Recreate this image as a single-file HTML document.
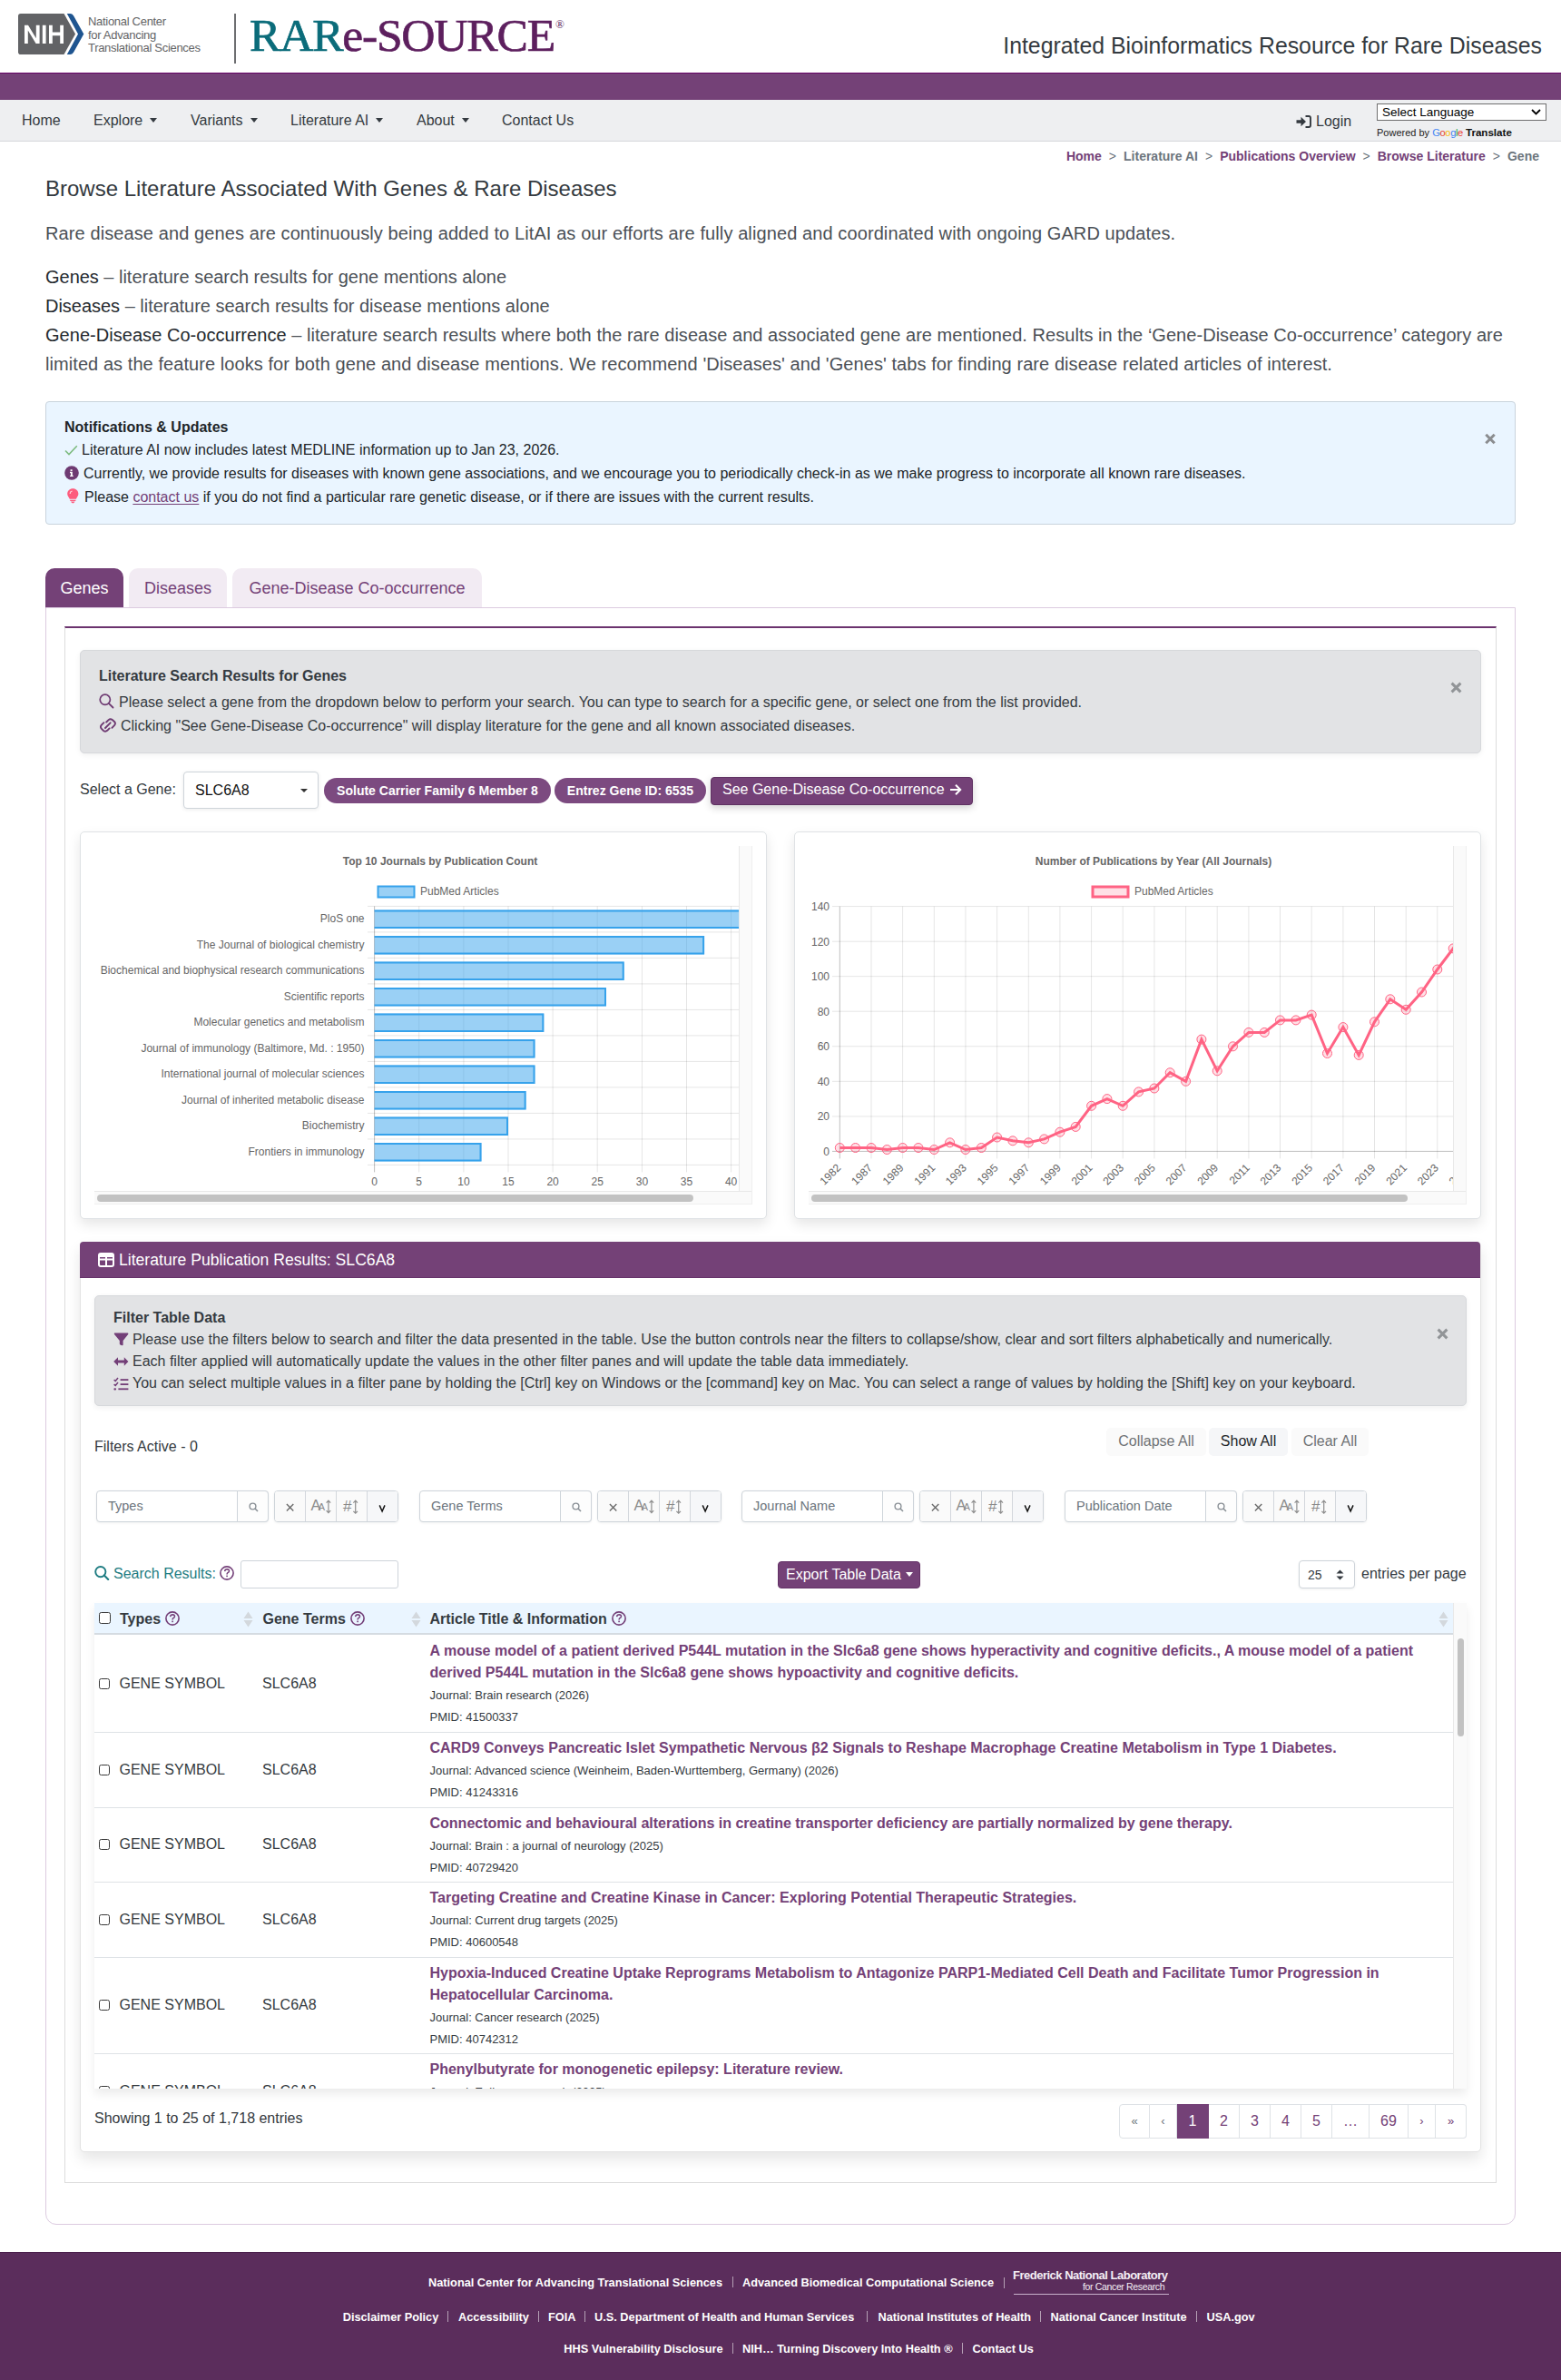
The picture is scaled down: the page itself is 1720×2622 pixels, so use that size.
<!DOCTYPE html>
<html><head><meta charset="utf-8">
<style>
*{box-sizing:border-box;margin:0;padding:0}
html,body{width:1720px;height:2622px;overflow:hidden;background:#fff}
body{font-family:"Liberation Sans",sans-serif;color:#343a40;position:relative;font-size:16px}
.abs{position:absolute}
.nowrap{white-space:nowrap}
/* header */
#hdr{left:0;top:0;width:1720px;height:80px;background:#fff}
#ncats{left:97px;top:17px;font-size:13px;line-height:14.6px;color:#636466;letter-spacing:-0.3px}
#divider{left:258px;top:15px;width:2px;height:55px;background:#6d6e71}
#rare{left:275px;top:4px;font-family:"Liberation Serif",serif;font-size:51.5px;line-height:70px;letter-spacing:-1.2px;-webkit-text-stroke:0.7px}
#rare .t{color:#0b6c7a}
#rare .p{color:#5d1f5e}
#rare sup{font-size:13px;position:relative;top:-25px;color:#5d1f5e;vertical-align:baseline;margin-left:1px;-webkit-text-stroke:0}
#tag{right:21px;top:34.5px;font-size:24.85px;line-height:32px;color:#343a40}
#pbar{left:0;top:80px;width:1720px;height:30px;background:#744177;border-top:1px solid #660066}
#nav{left:0;top:110px;width:1720px;height:46px;background:#eeeff1;border-bottom:1px solid #d6d8db}
#nav .it{position:absolute;top:13px;font-size:16px;line-height:20px;color:#343a40}
.caret{display:inline-block;width:0;height:0;border-left:4.5px solid transparent;border-right:4.5px solid transparent;border-top:5px solid #343a40;vertical-align:3px;margin-left:8px}
#crumb{right:24px;top:163px;font-size:14px;line-height:18px;font-weight:bold;color:#6c757d}
#crumb a{color:#744177;text-decoration:none}
#crumb .sep{color:#6c757d;font-weight:normal;margin:0 8px;font-size:14px}
#title{left:50px;top:193px;font-size:24px;line-height:30px;color:#343a40}
.intro{left:50px;font-size:20px;line-height:32px;color:#4b5056;letter-spacing:0.1px}
.intro b{font-weight:normal;color:#24292e}
/* notification */
#notif{left:50px;top:442px;width:1620px;height:136px;background:#eaf5ff;border:1px solid #c9d3dc;border-radius:4px}
#notif .h{position:absolute;left:20px;top:17px;font-size:16px;font-weight:bold;line-height:20px;color:#212529}
#notif .l{position:absolute;left:20px;font-size:16px;line-height:20px;color:#212529;white-space:nowrap}
#notif .x{position:absolute;right:20px;top:31px}
/* tabs */
.tab{position:absolute;top:626px;height:44px;border-radius:10px 10px 0 0;font-size:18px;line-height:44px;text-align:center}
#tab1{left:50px;width:86px;background:#744177;color:#fff}
#tab2{left:142px;width:108px;background:#f2ebf3;color:#744177}
#tab3{left:256px;width:275px;background:#f2ebf3;color:#744177}
#tabc{left:50px;top:669px;width:1620px;height:1782px;border:1px solid #dccbe0;border-radius:0 0 12px 12px}
#card{left:71px;top:690px;width:1578px;height:1715px;border:1px solid #dcdcdc;border-top:2px solid #6b336e}

.alertg{position:absolute;background:#e2e3e5;border:1px solid #d6d8db;border-radius:5px;box-shadow:0 2px 6px rgba(0,0,0,0.06)}
.alertg .h{position:absolute;font-size:16px;font-weight:bold;line-height:20px;color:#343a40;white-space:nowrap}
.alertg .l{position:absolute;font-size:16px;line-height:20px;color:#343a40;white-space:nowrap}
.badge{position:absolute;top:857px;height:28px;border-radius:14px;background:#7c4a80;color:#fff;font-size:14px;font-weight:bold;line-height:28px;text-align:center;white-space:nowrap}
.ccard{position:absolute;top:916px;height:427px;width:757px;background:#fff;border:1px solid #dfe2e5;border-radius:5px;box-shadow:0 6px 14px rgba(0,0,0,0.10)}

#rcard{left:88px;top:1368px;width:1544px;height:1003px;background:#fff;border:1px solid #e3e3e3;border-radius:5px;box-shadow:0 8px 16px rgba(0,0,0,0.10)}
#rhead{left:88px;top:1368px;width:1543px;height:40px;background:#744177;border-radius:4px 4px 0 0;border-bottom:1px solid #66336a}
.fbtn{position:absolute;top:1573px;height:31px;border-radius:5px;background:#fafafa;font-size:16px;line-height:30px;text-align:center;color:#6f7275;white-space:nowrap}
.fin{position:absolute;top:1642px;height:35px;width:190px;border:1px solid #ced4da;border-radius:4px;background:#fff;box-shadow:0 1px 3px rgba(0,0,0,0.06)}
.fin .ph{position:absolute;left:12px;top:7px;font-size:14.5px;line-height:18px;color:#6c757d;white-space:nowrap}
.fin .sb{position:absolute;right:-1px;top:-1px;width:35px;height:35px;border:1px solid #ced4da;border-radius:0 4px 4px 0;background:#fdfdfd}
.fgrp{position:absolute;top:1642px;height:35px;width:137px;border:1px solid #ced4da;border-radius:4px;background:#fff;box-shadow:0 1px 3px rgba(0,0,0,0.06)}
.fgrp .s{position:absolute;top:0;height:33px;width:34px;border-right:1px solid #dee2e6;font-size:15px;line-height:33px;text-align:center;color:#6c757d}

#tbl{left:104px;top:1766px;width:1512px;height:535px;overflow:hidden;box-shadow:0 6px 10px rgba(0,0,0,0.08)}
#thead{left:0;top:0;width:1497px;height:35px;background:#eaf5ff;border-bottom:2px solid #d5dbe1}
.th{position:absolute;top:8px;font-size:16px;font-weight:bold;line-height:20px;color:#343a40;white-space:nowrap}
.q{display:inline-block;width:16px;height:16px;border:1.5px solid #7a3f80;border-radius:50%;font-size:10.5px;line-height:13px;text-align:center;color:#7a3f80;font-weight:bold;vertical-align:-2px;margin-left:5px}
.row{position:absolute;left:0;width:1497px}
.row::after{content:"";position:absolute;left:0;right:0;bottom:-1px;height:1px;background:#dee2e6}
.row .cb{position:absolute;left:5px;width:12px;height:12px;border:1px solid #3a3a3a;border-radius:2.5px}
.row .ty{position:absolute;left:27.5px;font-size:16px;line-height:20px;color:#343a40;white-space:nowrap}
.row .gt{position:absolute;left:185px;font-size:16px;line-height:20px;color:#343a40;white-space:nowrap}
.row .ti{position:absolute;left:369.5px;top:6px;font-size:16px;font-weight:bold;line-height:24px;color:#744177;white-space:nowrap}
.row .jo{position:absolute;left:369.5px;font-size:13px;line-height:16px;color:#343a40;white-space:nowrap}
.pg{position:absolute;top:2318px;height:38px;border:1px solid #dee2e6;border-left:none;font-size:16px;line-height:36px;text-align:center;color:#744177;background:#fff}

#foot{left:0;top:2481px;width:1720px;height:141px;background:#5b2d5c;border-top:1px solid #4a1f4b}
.ft{position:absolute;font-size:12.75px;font-weight:bold;line-height:15px;color:#fff;white-space:nowrap}
.fs{position:absolute;width:1px;height:12px;background:rgba(255,255,255,0.55)}
</style></head>
<body>
<div id="hdr" class="abs">
  <svg class="abs" style="left:0;top:0" width="100" height="80" viewBox="0 0 100 80">
    <path d="M22.8 15 H70.5 L83 37.5 L70.5 60 H22.8 Q20 60 20 57.2 V17.8 Q20 15 22.8 15 Z" fill="#626366"/>
    <path d="M73.8 15 H77.3 Q79.6 15 81 17.3 L92.3 37.5 L81 57.7 Q79.6 60 77.3 60 H73.8 L86 37.5 Z" fill="#1f5590"/>
    <path d="M27 27.8 H31 L39.8 42.3 V27.8 H43.6 V48.1 H39.6 L30.8 33.6 V48.1 H27 Z M46.8 27.8 H50.6 V48.1 H46.8 Z M54 27.8 H57.8 V35.6 H66.2 V27.8 H70 V48.1 H66.2 V39.3 H57.8 V48.1 H54 Z" fill="#fff"/>
  </svg>
  <div id="ncats" class="abs nowrap">National Center<br>for Advancing<br>Translational Sciences</div>
  <div id="divider" class="abs"></div>
  <div id="rare" class="abs nowrap"><span class="t">RAR</span><span class="p">e-SOURCE</span><sup>®</sup></div>
  <div id="tag" class="abs nowrap">Integrated Bioinformatics Resource for Rare Diseases</div>
</div>
<div id="pbar" class="abs"></div>
<div id="nav" class="abs">
  <span class="it" style="left:24px">Home</span>
  <span class="it" style="left:103px">Explore<i class="caret"></i></span>
  <span class="it" style="left:210px">Variants<i class="caret"></i></span>
  <span class="it" style="left:320px">Literature AI<i class="caret"></i></span>
  <span class="it" style="left:459px">About<i class="caret"></i></span>
  <span class="it" style="left:553px">Contact Us</span>
  <svg class="abs" style="left:1428px;top:17px" width="17" height="14" viewBox="0 0 17 14"><path d="M0.5 5.2 H5.5 V1.8 L11 7 L5.5 12.2 V8.8 H0.5 Z" fill="#343a40"/><path d="M10.5 1 H14 Q16 1 16 3 V11 Q16 13 14 13 H10.5" fill="none" stroke="#343a40" stroke-width="1.9"/></svg>
  <span class="it" style="left:1450px;top:14px;font-size:16px">Login</span>
  <div class="abs" style="left:1517px;top:4px;width:187px;height:19px;border:1px solid #6f6f6f;background:#fff;font-size:13.5px;line-height:17px;padding-left:5px;color:#000">Select Language<svg class="abs" style="right:5px;top:5px" width="11" height="7" viewBox="0 0 11 7"><path d="M1 1 L5.5 5.5 L10 1" fill="none" stroke="#000" stroke-width="1.8"/></svg></div>
  <div class="abs nowrap" style="left:1517px;top:29px;font-size:11px;line-height:14px;color:#222">Powered by <span style="letter-spacing:-0.4px;font-size:11.2px"><span style="color:#4285f4">G</span><span style="color:#ea4335">o</span><span style="color:#fbbc05">o</span><span style="color:#4285f4">g</span><span style="color:#34a853">l</span><span style="color:#ea4335">e</span></span> <b style="color:#111;font-size:11.6px">Translate</b></div>
</div>
<div id="crumb" class="abs nowrap"><a>Home</a><span class="sep">&gt;</span>Literature AI<span class="sep">&gt;</span><a>Publications Overview</a><span class="sep">&gt;</span><a>Browse Literature</a><span class="sep">&gt;</span>Gene</div>
<div id="title" class="abs nowrap">Browse Literature Associated With Genes &amp; Rare Diseases</div>
<div class="abs intro nowrap" style="top:241px">Rare disease and genes are continuously being added to LitAI as our efforts are fully aligned and coordinated with ongoing GARD updates.</div>
<div class="abs intro nowrap" style="top:289px;letter-spacing:-0.02px"><b>Genes</b> – literature search results for gene mentions alone</div>
<div class="abs intro nowrap" style="top:321px;letter-spacing:-0.02px"><b>Diseases</b> – literature search results for disease mentions alone</div>
<div class="abs intro nowrap" style="top:353px;letter-spacing:0.04px"><b>Gene-Disease Co-occurrence</b> – literature search results where both the rare disease and associated gene are mentioned. Results in the ‘Gene-Disease Co-occurrence’ category are</div>
<div class="abs intro nowrap" style="top:385px;letter-spacing:0.07px">limited as the feature looks for both gene and disease mentions. We recommend 'Diseases' and 'Genes' tabs for finding rare disease related articles of interest.</div>

<div id="notif" class="abs">
  <div class="h" style="top:18px">Notifications &amp; Updates</div>
  <svg class="abs" style="left:20px;top:47px" width="15" height="12" viewBox="0 0 15 12"><path d="M1 6.5 L5 10.5 L13.8 1.2" fill="none" stroke="#7dbb7f" stroke-width="1.6"/></svg>
  <div class="l" style="top:43px;left:39px">Literature AI now includes latest MEDLINE information up to Jan 23, 2026.</div>
  <svg class="abs" style="left:20px;top:70px" width="16" height="16" viewBox="0 0 16 16"><circle cx="8" cy="8" r="7.8" fill="#6e3a72"/><path d="M6.6 4.2 h2 v1.8 h-2z M6 6.8 h2.8 v3.9 h0.9 v1.4 h-3.6 v-1.4 h0.9 v-2.5 h-1z" fill="#fff"/></svg>
  <div class="l" style="top:69px;left:41px">Currently, we provide results for diseases with known gene associations, and we encourage you to periodically check-in as we make progress to incorporate all known rare diseases.</div>
  <svg class="abs" style="left:23px;top:95px" width="13" height="17" viewBox="0 0 13 17"><path d="M6.3 0.2 C2.8 0.2 0.2 2.8 0.2 6 C0.2 8.6 2 9.8 2.8 11.8 H9.8 C10.6 9.8 12.4 8.6 12.4 6 C12.4 2.8 9.8 0.2 6.3 0.2 Z M3.2 12.8 H9.4 V14 H3.2Z M4 14.6 H8.6 Q8 16.4 6.3 16.4 Q4.6 16.4 4 14.6Z" fill="#fd5c7e"/><path d="M3.2 6 Q3.2 3.4 5.6 3" stroke="#ffd0da" stroke-width="1.1" fill="none"/></svg>
  <div class="l" style="top:95px;left:42px">Please <u style="color:#744177;text-decoration-thickness:1px;text-underline-offset:2px">contact us</u> if you do not find a particular rare genetic disease, or if there are issues with the current results.</div>
  <svg class="abs" style="left:1585px;top:34px" width="12" height="13" viewBox="0 0 12 13"><path d="M1.3 1.8 L10.7 11.2 M10.7 1.8 L1.3 11.2" stroke="#8b8d90" stroke-width="3"/></svg>
</div>

<div class="tab" id="tab1">Genes</div>
<div class="tab" id="tab2">Diseases</div>
<div class="tab" id="tab3">Gene-Disease Co-occurrence</div>
<div id="tabc" class="abs"></div>
<div id="card" class="abs"></div>
<div class="alertg" style="left:88px;top:716px;width:1544px;height:114px">
  <div class="h" style="left:20px;top:18px">Literature Search Results for Genes</div>
  <svg class="abs" style="left:20px;top:47px" width="17" height="17" viewBox="0 0 17 17"><circle cx="6.8" cy="6.8" r="5.6" fill="none" stroke="#6e3a72" stroke-width="1.7"/><path d="M10.8 10.8 L15.5 15.5" stroke="#6e3a72" stroke-width="1.8" stroke-linecap="round"/></svg>
  <div class="l" style="left:42px;top:47px">Please select a gene from the dropdown below to perform your search. You can type to search for a specific gene, or select one from the list provided.</div>
  <svg class="abs" style="left:20px;top:74px" width="20" height="16" viewBox="0 0 20 16"><path d="M8.2 4.5 L10.6 2.1 Q12.6 0.4 14.8 2 L17.2 4.2 Q18.8 6.2 17 8.2 L14.4 10.8 M11.6 11.4 L9.2 13.8 Q7.2 15.5 5 13.9 L2.7 11.7 Q1.1 9.7 2.9 7.7 L5.4 5.2 M7 11 L12.6 5.3" fill="none" stroke="#6e3a72" stroke-width="1.9" stroke-linecap="round"/></svg>
  <div class="l" style="left:44px;top:73px">Clicking "See Gene-Disease Co-occurrence" will display literature for the gene and all known associated diseases.</div>
  <svg class="abs" style="left:1509px;top:34px" width="13" height="13" viewBox="0 0 13 13"><path d="M1.6 1.6 L11.4 11.4 M11.4 1.6 L1.6 11.4" stroke="#919497" stroke-width="3"/></svg>
</div>
<div class="abs nowrap" style="left:88px;top:860px;font-size:16px;line-height:20px;color:#343a40">Select a Gene:</div>
<div class="abs" style="left:202px;top:850px;width:149px;height:41px;border:1px solid #ced4da;border-radius:4px;background:#fff;box-shadow:0 1px 4px rgba(0,0,0,0.08)">
  <div class="abs nowrap" style="left:12px;top:10px;font-size:16px;line-height:20px;color:#111">SLC6A8</div>
  <div class="abs" style="left:128px;top:18px;width:0;height:0;border-left:4px solid transparent;border-right:4px solid transparent;border-top:4px solid #333"></div>
</div>
<div class="badge" style="left:357px;width:250px">Solute Carrier Family 6 Member 8</div>
<div class="badge" style="left:611px;width:167px">Entrez Gene ID: 6535</div>
<div class="abs nowrap" style="left:783px;top:856px;width:289px;height:31px;background:#744177;border:1px solid #5f3262;border-radius:4px;color:#fff;font-size:16px;line-height:25px;padding-left:12px;box-shadow:0 3px 8px rgba(0,0,0,0.18)">See Gene-Disease Co-occurrence<svg style="position:absolute;left:262px;top:6px" width="14" height="14" viewBox="0 0 14 14"><path d="M1 7 H12 M7 1.8 L12.2 7 L7 12.2" fill="none" stroke="#fff" stroke-width="2"/></svg></div>
<div class="ccard" style="left:88px"></div>
<div class="ccard" style="left:875px"></div>
<!--CHARTS-->
<svg class="abs" style="left:104px;top:932px" width="725" height="395" viewBox="104 932 725 395">
<defs><clipPath id="c1"><rect x="104" y="932" width="710" height="380"/></clipPath></defs>
<g clip-path="url(#c1)" font-family="Liberation Sans" font-size="12" fill="#666">
<text x="485" y="953" text-anchor="middle" font-weight="bold">Top 10 Journals by Publication Count</text>
<rect x="416.5" y="976.5" width="40" height="12" fill="rgba(54,162,235,0.5)" stroke="#36a2eb" stroke-width="2"/>
<text x="463" y="986">PubMed Articles</text>
<line x1="405" y1="998.4" x2="900" y2="998.4" stroke="rgba(0,0,0,0.1)" stroke-width="1"/>
<line x1="405" y1="1026.9" x2="900" y2="1026.9" stroke="rgba(0,0,0,0.1)" stroke-width="1"/>
<line x1="405" y1="1055.4" x2="900" y2="1055.4" stroke="rgba(0,0,0,0.1)" stroke-width="1"/>
<line x1="405" y1="1083.9" x2="900" y2="1083.9" stroke="rgba(0,0,0,0.1)" stroke-width="1"/>
<line x1="405" y1="1112.4" x2="900" y2="1112.4" stroke="rgba(0,0,0,0.1)" stroke-width="1"/>
<line x1="405" y1="1140.9" x2="900" y2="1140.9" stroke="rgba(0,0,0,0.1)" stroke-width="1"/>
<line x1="405" y1="1169.4" x2="900" y2="1169.4" stroke="rgba(0,0,0,0.1)" stroke-width="1"/>
<line x1="405" y1="1197.9" x2="900" y2="1197.9" stroke="rgba(0,0,0,0.1)" stroke-width="1"/>
<line x1="405" y1="1226.4" x2="900" y2="1226.4" stroke="rgba(0,0,0,0.1)" stroke-width="1"/>
<line x1="405" y1="1254.9" x2="900" y2="1254.9" stroke="rgba(0,0,0,0.1)" stroke-width="1"/>
<line x1="405" y1="1283.4" x2="900" y2="1283.4" stroke="rgba(0,0,0,0.1)" stroke-width="1"/>
<line x1="412.6" y1="998.4" x2="412.6" y2="1291.4" stroke="rgba(0,0,0,0.25)" stroke-width="1"/>
<text x="412.6" y="1306" text-anchor="middle">0</text>
<line x1="461.7" y1="998.4" x2="461.7" y2="1291.4" stroke="rgba(0,0,0,0.1)" stroke-width="1"/>
<text x="461.7" y="1306" text-anchor="middle">5</text>
<line x1="510.9" y1="998.4" x2="510.9" y2="1291.4" stroke="rgba(0,0,0,0.1)" stroke-width="1"/>
<text x="510.9" y="1306" text-anchor="middle">10</text>
<line x1="560.0" y1="998.4" x2="560.0" y2="1291.4" stroke="rgba(0,0,0,0.1)" stroke-width="1"/>
<text x="560.0" y="1306" text-anchor="middle">15</text>
<line x1="609.1" y1="998.4" x2="609.1" y2="1291.4" stroke="rgba(0,0,0,0.1)" stroke-width="1"/>
<text x="609.1" y="1306" text-anchor="middle">20</text>
<line x1="658.2" y1="998.4" x2="658.2" y2="1291.4" stroke="rgba(0,0,0,0.1)" stroke-width="1"/>
<text x="658.2" y="1306" text-anchor="middle">25</text>
<line x1="707.4" y1="998.4" x2="707.4" y2="1291.4" stroke="rgba(0,0,0,0.1)" stroke-width="1"/>
<text x="707.4" y="1306" text-anchor="middle">30</text>
<line x1="756.5" y1="998.4" x2="756.5" y2="1291.4" stroke="rgba(0,0,0,0.1)" stroke-width="1"/>
<text x="756.5" y="1306" text-anchor="middle">35</text>
<line x1="805.6" y1="998.4" x2="805.6" y2="1291.4" stroke="rgba(0,0,0,0.1)" stroke-width="1"/>
<text x="805.6" y="1306" text-anchor="middle">40</text>
<line x1="854.7" y1="998.4" x2="854.7" y2="1291.4" stroke="rgba(0,0,0,0.1)" stroke-width="1"/>
<text x="854.7" y="1306" text-anchor="middle">45</text>
<text x="401.5" y="1016.2" text-anchor="end">PloS one</text>
<rect x="412.6" y="1002.4" width="412.6" height="20.4" fill="rgba(54,162,235,0.5)"/>
<path d="M412.6 1003.4 H824.2 V1021.9 H412.6" fill="none" stroke="#36a2eb" stroke-width="2"/>
<text x="401.5" y="1044.8" text-anchor="end">The Journal of biological chemistry</text>
<rect x="412.6" y="1031.0" width="363.5" height="20.4" fill="rgba(54,162,235,0.5)"/>
<path d="M412.6 1032.0 H775.1 V1050.4 H412.6" fill="none" stroke="#36a2eb" stroke-width="2"/>
<text x="401.5" y="1073.2" text-anchor="end">Biochemical and biophysical research communications</text>
<rect x="412.6" y="1059.5" width="275.1" height="20.4" fill="rgba(54,162,235,0.5)"/>
<path d="M412.6 1060.5 H686.7 V1078.9 H412.6" fill="none" stroke="#36a2eb" stroke-width="2"/>
<text x="401.5" y="1101.8" text-anchor="end">Scientific reports</text>
<rect x="412.6" y="1088.0" width="255.4" height="20.4" fill="rgba(54,162,235,0.5)"/>
<path d="M412.6 1089.0 H667.0 V1107.4 H412.6" fill="none" stroke="#36a2eb" stroke-width="2"/>
<text x="401.5" y="1130.2" text-anchor="end">Molecular genetics and metabolism</text>
<rect x="412.6" y="1116.5" width="186.7" height="20.4" fill="rgba(54,162,235,0.5)"/>
<path d="M412.6 1117.5 H598.3 V1135.9 H412.6" fill="none" stroke="#36a2eb" stroke-width="2"/>
<text x="401.5" y="1158.8" text-anchor="end">Journal of immunology (Baltimore, Md. : 1950)</text>
<rect x="412.6" y="1145.0" width="176.8" height="20.4" fill="rgba(54,162,235,0.5)"/>
<path d="M412.6 1146.0 H588.5 V1164.4 H412.6" fill="none" stroke="#36a2eb" stroke-width="2"/>
<text x="401.5" y="1187.2" text-anchor="end">International journal of molecular sciences</text>
<rect x="412.6" y="1173.5" width="176.8" height="20.4" fill="rgba(54,162,235,0.5)"/>
<path d="M412.6 1174.5 H588.5 V1192.9 H412.6" fill="none" stroke="#36a2eb" stroke-width="2"/>
<text x="401.5" y="1215.8" text-anchor="end">Journal of inherited metabolic disease</text>
<rect x="412.6" y="1202.0" width="167.0" height="20.4" fill="rgba(54,162,235,0.5)"/>
<path d="M412.6 1203.0 H578.6 V1221.4 H412.6" fill="none" stroke="#36a2eb" stroke-width="2"/>
<text x="401.5" y="1244.2" text-anchor="end">Biochemistry</text>
<rect x="412.6" y="1230.5" width="147.4" height="20.4" fill="rgba(54,162,235,0.5)"/>
<path d="M412.6 1231.5 H559.0 V1249.9 H412.6" fill="none" stroke="#36a2eb" stroke-width="2"/>
<text x="401.5" y="1272.8" text-anchor="end">Frontiers in immunology</text>
<rect x="412.6" y="1259.0" width="117.9" height="20.4" fill="rgba(54,162,235,0.5)"/>
<path d="M412.6 1260.0 H529.5 V1278.4 H412.6" fill="none" stroke="#36a2eb" stroke-width="2"/>
</g>
<rect x="104" y="1312" width="725" height="15" fill="#fafafa"/>
<line x1="104" y1="1312.5" x2="829" y2="1312.5" stroke="#e8e8e8"/>
<line x1="104" y1="1326.5" x2="829" y2="1326.5" stroke="#efefef"/>
<rect x="814" y="932" width="15" height="380" fill="#fafafa"/>
<line x1="814.5" y1="932" x2="814.5" y2="1312" stroke="#e8e8e8"/>
<line x1="828.5" y1="932" x2="828.5" y2="1327" stroke="#efefef"/>
<rect x="107" y="1316" width="657" height="8" rx="4" fill="#c2c2c2"/>
</svg>
<svg class="abs" style="left:891px;top:932px" width="725" height="395" viewBox="891 932 725 395">
<defs><clipPath id="c2"><rect x="891" y="932" width="710" height="380"/></clipPath></defs>
<g clip-path="url(#c2)" font-family="Liberation Sans" font-size="12" fill="#666">
<text x="1271" y="953" text-anchor="middle" font-weight="bold">Number of Publications by Year (All Journals)</text>
<rect x="1204" y="977" width="39" height="11" fill="rgba(255,99,132,0.2)" stroke="#ff6384" stroke-width="3"/>
<text x="1250" y="986">PubMed Articles</text>
<line x1="917" y1="1268.4" x2="1700" y2="1268.4" stroke="rgba(0,0,0,0.25)" stroke-width="1"/>
<text x="914" y="1272.7" text-anchor="end">0</text>
<line x1="917" y1="1229.9" x2="1700" y2="1229.9" stroke="rgba(0,0,0,0.1)" stroke-width="1"/>
<text x="914" y="1234.2" text-anchor="end">20</text>
<line x1="917" y1="1191.3" x2="1700" y2="1191.3" stroke="rgba(0,0,0,0.1)" stroke-width="1"/>
<text x="914" y="1195.6" text-anchor="end">40</text>
<line x1="917" y1="1152.8" x2="1700" y2="1152.8" stroke="rgba(0,0,0,0.1)" stroke-width="1"/>
<text x="914" y="1157.1" text-anchor="end">60</text>
<line x1="917" y1="1114.2" x2="1700" y2="1114.2" stroke="rgba(0,0,0,0.1)" stroke-width="1"/>
<text x="914" y="1118.5" text-anchor="end">80</text>
<line x1="917" y1="1075.7" x2="1700" y2="1075.7" stroke="rgba(0,0,0,0.1)" stroke-width="1"/>
<text x="914" y="1080.0" text-anchor="end">100</text>
<line x1="917" y1="1037.2" x2="1700" y2="1037.2" stroke="rgba(0,0,0,0.1)" stroke-width="1"/>
<text x="914" y="1041.5" text-anchor="end">120</text>
<line x1="917" y1="998.6" x2="1700" y2="998.6" stroke="rgba(0,0,0,0.1)" stroke-width="1"/>
<text x="914" y="1002.9" text-anchor="end">140</text>
<line x1="925.3" y1="998.6" x2="925.3" y2="1276.4" stroke="rgba(0,0,0,0.25)" stroke-width="1"/>
<text transform="translate(924.3,1284.5) rotate(-45)" text-anchor="end" dy="4">1982</text>
<line x1="960.0" y1="998.6" x2="960.0" y2="1276.4" stroke="rgba(0,0,0,0.1)" stroke-width="1"/>
<text transform="translate(959.0,1284.5) rotate(-45)" text-anchor="end" dy="4">1987</text>
<line x1="994.6" y1="998.6" x2="994.6" y2="1276.4" stroke="rgba(0,0,0,0.1)" stroke-width="1"/>
<text transform="translate(993.6,1284.5) rotate(-45)" text-anchor="end" dy="4">1989</text>
<line x1="1029.3" y1="998.6" x2="1029.3" y2="1276.4" stroke="rgba(0,0,0,0.1)" stroke-width="1"/>
<text transform="translate(1028.3,1284.5) rotate(-45)" text-anchor="end" dy="4">1991</text>
<line x1="1063.9" y1="998.6" x2="1063.9" y2="1276.4" stroke="rgba(0,0,0,0.1)" stroke-width="1"/>
<text transform="translate(1062.9,1284.5) rotate(-45)" text-anchor="end" dy="4">1993</text>
<line x1="1098.6" y1="998.6" x2="1098.6" y2="1276.4" stroke="rgba(0,0,0,0.1)" stroke-width="1"/>
<text transform="translate(1097.6,1284.5) rotate(-45)" text-anchor="end" dy="4">1995</text>
<line x1="1133.3" y1="998.6" x2="1133.3" y2="1276.4" stroke="rgba(0,0,0,0.1)" stroke-width="1"/>
<text transform="translate(1132.3,1284.5) rotate(-45)" text-anchor="end" dy="4">1997</text>
<line x1="1167.9" y1="998.6" x2="1167.9" y2="1276.4" stroke="rgba(0,0,0,0.1)" stroke-width="1"/>
<text transform="translate(1166.9,1284.5) rotate(-45)" text-anchor="end" dy="4">1999</text>
<line x1="1202.6" y1="998.6" x2="1202.6" y2="1276.4" stroke="rgba(0,0,0,0.1)" stroke-width="1"/>
<text transform="translate(1201.6,1284.5) rotate(-45)" text-anchor="end" dy="4">2001</text>
<line x1="1237.2" y1="998.6" x2="1237.2" y2="1276.4" stroke="rgba(0,0,0,0.1)" stroke-width="1"/>
<text transform="translate(1236.2,1284.5) rotate(-45)" text-anchor="end" dy="4">2003</text>
<line x1="1271.9" y1="998.6" x2="1271.9" y2="1276.4" stroke="rgba(0,0,0,0.1)" stroke-width="1"/>
<text transform="translate(1270.9,1284.5) rotate(-45)" text-anchor="end" dy="4">2005</text>
<line x1="1306.6" y1="998.6" x2="1306.6" y2="1276.4" stroke="rgba(0,0,0,0.1)" stroke-width="1"/>
<text transform="translate(1305.6,1284.5) rotate(-45)" text-anchor="end" dy="4">2007</text>
<line x1="1341.2" y1="998.6" x2="1341.2" y2="1276.4" stroke="rgba(0,0,0,0.1)" stroke-width="1"/>
<text transform="translate(1340.2,1284.5) rotate(-45)" text-anchor="end" dy="4">2009</text>
<line x1="1375.9" y1="998.6" x2="1375.9" y2="1276.4" stroke="rgba(0,0,0,0.1)" stroke-width="1"/>
<text transform="translate(1374.9,1284.5) rotate(-45)" text-anchor="end" dy="4">2011</text>
<line x1="1410.5" y1="998.6" x2="1410.5" y2="1276.4" stroke="rgba(0,0,0,0.1)" stroke-width="1"/>
<text transform="translate(1409.5,1284.5) rotate(-45)" text-anchor="end" dy="4">2013</text>
<line x1="1445.2" y1="998.6" x2="1445.2" y2="1276.4" stroke="rgba(0,0,0,0.1)" stroke-width="1"/>
<text transform="translate(1444.2,1284.5) rotate(-45)" text-anchor="end" dy="4">2015</text>
<line x1="1479.9" y1="998.6" x2="1479.9" y2="1276.4" stroke="rgba(0,0,0,0.1)" stroke-width="1"/>
<text transform="translate(1478.9,1284.5) rotate(-45)" text-anchor="end" dy="4">2017</text>
<line x1="1514.5" y1="998.6" x2="1514.5" y2="1276.4" stroke="rgba(0,0,0,0.1)" stroke-width="1"/>
<text transform="translate(1513.5,1284.5) rotate(-45)" text-anchor="end" dy="4">2019</text>
<line x1="1549.2" y1="998.6" x2="1549.2" y2="1276.4" stroke="rgba(0,0,0,0.1)" stroke-width="1"/>
<text transform="translate(1548.2,1284.5) rotate(-45)" text-anchor="end" dy="4">2021</text>
<line x1="1583.8" y1="998.6" x2="1583.8" y2="1276.4" stroke="rgba(0,0,0,0.1)" stroke-width="1"/>
<text transform="translate(1582.8,1284.5) rotate(-45)" text-anchor="end" dy="4">2023</text>
<line x1="1618.5" y1="998.6" x2="1618.5" y2="1276.4" stroke="rgba(0,0,0,0.1)" stroke-width="1"/>
<text transform="translate(1617.5,1284.5) rotate(-45)" text-anchor="end" dy="4">2025</text>
<path d="M925.3 1264.5 L942.6 1264.5 L960.0 1264.5 L977.3 1266.5 L994.6 1264.5 L1011.9 1264.5 L1029.3 1266.5 L1046.6 1258.8 L1063.9 1266.5 L1081.3 1264.5 L1098.6 1253.0 L1115.9 1256.8 L1133.3 1258.8 L1150.6 1254.9 L1167.9 1247.2 L1185.2 1241.4 L1202.6 1218.3 L1219.9 1210.6 L1237.2 1218.3 L1254.6 1202.9 L1271.9 1199.0 L1289.2 1181.7 L1306.6 1191.3 L1323.9 1145.1 L1341.2 1179.8 L1358.5 1152.8 L1375.9 1137.4 L1393.2 1137.4 L1410.5 1123.9 L1427.9 1123.9 L1445.2 1118.1 L1462.5 1160.5 L1479.9 1131.6 L1497.2 1162.4 L1514.5 1125.8 L1531.8 1100.8 L1549.2 1112.3 L1566.5 1093.0 L1583.8 1068.0 L1601.2 1044.9 L1618.5 1017.9" fill="none" stroke="#ff6384" stroke-width="3" stroke-linejoin="miter"/>
<circle cx="925.3" cy="1264.5" r="5" fill="rgba(255,99,132,0.2)" stroke="#ff6384" stroke-width="1"/>
<circle cx="942.6" cy="1264.5" r="5" fill="rgba(255,99,132,0.2)" stroke="#ff6384" stroke-width="1"/>
<circle cx="960.0" cy="1264.5" r="5" fill="rgba(255,99,132,0.2)" stroke="#ff6384" stroke-width="1"/>
<circle cx="977.3" cy="1266.5" r="5" fill="rgba(255,99,132,0.2)" stroke="#ff6384" stroke-width="1"/>
<circle cx="994.6" cy="1264.5" r="5" fill="rgba(255,99,132,0.2)" stroke="#ff6384" stroke-width="1"/>
<circle cx="1011.9" cy="1264.5" r="5" fill="rgba(255,99,132,0.2)" stroke="#ff6384" stroke-width="1"/>
<circle cx="1029.3" cy="1266.5" r="5" fill="rgba(255,99,132,0.2)" stroke="#ff6384" stroke-width="1"/>
<circle cx="1046.6" cy="1258.8" r="5" fill="rgba(255,99,132,0.2)" stroke="#ff6384" stroke-width="1"/>
<circle cx="1063.9" cy="1266.5" r="5" fill="rgba(255,99,132,0.2)" stroke="#ff6384" stroke-width="1"/>
<circle cx="1081.3" cy="1264.5" r="5" fill="rgba(255,99,132,0.2)" stroke="#ff6384" stroke-width="1"/>
<circle cx="1098.6" cy="1253.0" r="5" fill="rgba(255,99,132,0.2)" stroke="#ff6384" stroke-width="1"/>
<circle cx="1115.9" cy="1256.8" r="5" fill="rgba(255,99,132,0.2)" stroke="#ff6384" stroke-width="1"/>
<circle cx="1133.3" cy="1258.8" r="5" fill="rgba(255,99,132,0.2)" stroke="#ff6384" stroke-width="1"/>
<circle cx="1150.6" cy="1254.9" r="5" fill="rgba(255,99,132,0.2)" stroke="#ff6384" stroke-width="1"/>
<circle cx="1167.9" cy="1247.2" r="5" fill="rgba(255,99,132,0.2)" stroke="#ff6384" stroke-width="1"/>
<circle cx="1185.2" cy="1241.4" r="5" fill="rgba(255,99,132,0.2)" stroke="#ff6384" stroke-width="1"/>
<circle cx="1202.6" cy="1218.3" r="5" fill="rgba(255,99,132,0.2)" stroke="#ff6384" stroke-width="1"/>
<circle cx="1219.9" cy="1210.6" r="5" fill="rgba(255,99,132,0.2)" stroke="#ff6384" stroke-width="1"/>
<circle cx="1237.2" cy="1218.3" r="5" fill="rgba(255,99,132,0.2)" stroke="#ff6384" stroke-width="1"/>
<circle cx="1254.6" cy="1202.9" r="5" fill="rgba(255,99,132,0.2)" stroke="#ff6384" stroke-width="1"/>
<circle cx="1271.9" cy="1199.0" r="5" fill="rgba(255,99,132,0.2)" stroke="#ff6384" stroke-width="1"/>
<circle cx="1289.2" cy="1181.7" r="5" fill="rgba(255,99,132,0.2)" stroke="#ff6384" stroke-width="1"/>
<circle cx="1306.6" cy="1191.3" r="5" fill="rgba(255,99,132,0.2)" stroke="#ff6384" stroke-width="1"/>
<circle cx="1323.9" cy="1145.1" r="5" fill="rgba(255,99,132,0.2)" stroke="#ff6384" stroke-width="1"/>
<circle cx="1341.2" cy="1179.8" r="5" fill="rgba(255,99,132,0.2)" stroke="#ff6384" stroke-width="1"/>
<circle cx="1358.5" cy="1152.8" r="5" fill="rgba(255,99,132,0.2)" stroke="#ff6384" stroke-width="1"/>
<circle cx="1375.9" cy="1137.4" r="5" fill="rgba(255,99,132,0.2)" stroke="#ff6384" stroke-width="1"/>
<circle cx="1393.2" cy="1137.4" r="5" fill="rgba(255,99,132,0.2)" stroke="#ff6384" stroke-width="1"/>
<circle cx="1410.5" cy="1123.9" r="5" fill="rgba(255,99,132,0.2)" stroke="#ff6384" stroke-width="1"/>
<circle cx="1427.9" cy="1123.9" r="5" fill="rgba(255,99,132,0.2)" stroke="#ff6384" stroke-width="1"/>
<circle cx="1445.2" cy="1118.1" r="5" fill="rgba(255,99,132,0.2)" stroke="#ff6384" stroke-width="1"/>
<circle cx="1462.5" cy="1160.5" r="5" fill="rgba(255,99,132,0.2)" stroke="#ff6384" stroke-width="1"/>
<circle cx="1479.9" cy="1131.6" r="5" fill="rgba(255,99,132,0.2)" stroke="#ff6384" stroke-width="1"/>
<circle cx="1497.2" cy="1162.4" r="5" fill="rgba(255,99,132,0.2)" stroke="#ff6384" stroke-width="1"/>
<circle cx="1514.5" cy="1125.8" r="5" fill="rgba(255,99,132,0.2)" stroke="#ff6384" stroke-width="1"/>
<circle cx="1531.8" cy="1100.8" r="5" fill="rgba(255,99,132,0.2)" stroke="#ff6384" stroke-width="1"/>
<circle cx="1549.2" cy="1112.3" r="5" fill="rgba(255,99,132,0.2)" stroke="#ff6384" stroke-width="1"/>
<circle cx="1566.5" cy="1093.0" r="5" fill="rgba(255,99,132,0.2)" stroke="#ff6384" stroke-width="1"/>
<circle cx="1583.8" cy="1068.0" r="5" fill="rgba(255,99,132,0.2)" stroke="#ff6384" stroke-width="1"/>
<circle cx="1601.2" cy="1044.9" r="5" fill="rgba(255,99,132,0.2)" stroke="#ff6384" stroke-width="1"/>
<circle cx="1618.5" cy="1017.9" r="5" fill="rgba(255,99,132,0.2)" stroke="#ff6384" stroke-width="1"/>
</g>
<rect x="891" y="1312" width="725" height="15" fill="#fafafa"/>
<line x1="891" y1="1312.5" x2="1616" y2="1312.5" stroke="#e8e8e8"/>
<line x1="891" y1="1326.5" x2="1616" y2="1326.5" stroke="#efefef"/>
<rect x="1601" y="932" width="15" height="380" fill="#fafafa"/>
<line x1="1601.5" y1="932" x2="1601.5" y2="1312" stroke="#e8e8e8"/>
<line x1="1615.5" y1="932" x2="1615.5" y2="1327" stroke="#efefef"/>
<rect x="894" y="1316" width="657" height="8" rx="4" fill="#c2c2c2"/>
</svg>
<!--/CHARTS-->
<div id="rcard" class="abs"></div>
<div id="rhead" class="abs">
  <svg class="abs" style="left:20px;top:12px" width="18" height="16" viewBox="0 0 18 16"><rect x="1" y="1" width="16" height="14" rx="2" fill="none" stroke="#fff" stroke-width="2"/><path d="M1 7.6 H17 M9 1 V15" stroke="#fff" stroke-width="2"/><rect x="1" y="1" width="16" height="4" fill="#fff"/></svg>
  <div class="abs nowrap" style="left:43px;top:9px;font-size:17.6px;line-height:22px;color:#fff">Literature Publication Results: SLC6A8</div>
</div>
<div class="alertg" style="left:104px;top:1427px;width:1512px;height:122px">
  <div class="h" style="left:20px;top:14px">Filter Table Data</div>
  <svg class="abs" style="left:20px;top:40px" width="17" height="15" viewBox="0 0 17 15"><path d="M1.2 0.6 H15.8 Q16.8 0.8 16.2 1.9 L10.6 9 V13.6 Q10.6 14.4 9.4 14.2 L7.4 13.4 Q6.8 13 6.8 12.4 V9 L1 1.9 Q0.4 0.8 1.2 0.6 Z" fill="#733f78"/></svg>
  <div class="l" style="left:41px;top:38px">Please use the filters below to search and filter the data presented in the table. Use the button controls near the filters to collapse/show, clear and sort filters alphabetically and numerically.</div>
  <svg class="abs" style="left:20px;top:67px" width="17" height="10" viewBox="0 0 17 10"><path d="M0.2 5 L5 0.3 V3.6 H11.8 V0.3 L16.4 5 L11.8 9.7 V6.4 H5 V9.7 Z" fill="#733f78"/></svg>
  <div class="l" style="left:41px;top:62px">Each filter applied will automatically update the values in the other filter panes and will update the table data immediately.</div>
  <svg class="abs" style="left:20px;top:89px" width="17" height="15" viewBox="0 0 17 15"><path d="M0.6 3.2 L2.2 4.4 L5 1" fill="none" stroke="#733f78" stroke-width="1.5"/><path d="M0.6 8.2 L2.2 9.4 L5 6" fill="none" stroke="#733f78" stroke-width="1.5"/><rect x="0.4" y="12.2" width="2.6" height="2.4" rx="1" fill="#733f78"/><rect x="7.6" y="2.2" width="8.8" height="1.8" fill="#733f78"/><rect x="7.6" y="7.2" width="8.8" height="1.8" fill="#733f78"/><rect x="5.4" y="12.4" width="11" height="1.8" fill="#733f78"/></svg>
  <div class="l" style="left:41px;top:86px">You can select multiple values in a filter pane by holding the [Ctrl] key on Windows or the [command] key on Mac. You can select a range of values by holding the [Shift] key on your keyboard.</div>
  <svg class="abs" style="left:1478px;top:35px" width="13" height="13" viewBox="0 0 13 13"><path d="M1.6 1.6 L11.4 11.4 M11.4 1.6 L1.6 11.4" stroke="#919497" stroke-width="3"/></svg>
</div>
<div class="abs nowrap" style="left:104px;top:1584px;font-size:16px;line-height:20px;color:#343a40">Filters Active - 0</div>
<div class="fbtn" style="left:1219px;width:110px">Collapse All</div>
<div class="fbtn" style="left:1332px;width:87px;color:#212529;background:#f5f6f8">Show All</div>
<div class="fbtn" style="left:1423px;width:85px">Clear All</div>
<div class="fin" style="left:106px"><div class="ph">Types</div><div class="sb"><svg class="abs" style="left:12px;top:12px" width="11" height="11" viewBox="0 0 11 11"><circle cx="4.5" cy="4.5" r="3.4" fill="none" stroke="#8a9096" stroke-width="1.4"/><path d="M7 7 L10 10" stroke="#8a9096" stroke-width="1.6"/></svg></div></div>
<div class="fgrp" style="left:302px;overflow:hidden"><svg class="abs" style="left:-1px;top:-1px" width="137" height="35" viewBox="0 0 137 35"><rect x="0" y="0" width="137" height="35" fill="#fafafa"/><rect x="102.5" y="0" width="34.5" height="35" fill="#f6f7f9"/><path d="M34.5 0 V35 M68.5 0 V35 M102.5 0 V35" stroke="#d3d7dc" stroke-width="1"/><path d="M13.9 15.1 L21.3 22.5 M21.3 15.1 L13.9 22.5" stroke="#6b6b6b" stroke-width="1.4"/><text x="40.6" y="21.8" font-family="Liberation Sans" font-size="16.3" fill="#8a8a8a">A</text><text x="48.6" y="21.8" font-family="Liberation Sans" font-size="11.3" fill="#8a8a8a">A</text><path d="M59.9 11.2 V24.6 M57.6 13.6 L59.9 11.2 L62.2 13.6 M57.6 22.2 L59.9 24.6 L62.2 22.2" fill="none" stroke="#8d8d8d" stroke-width="1.2"/><text x="76" y="22.5" font-family="Liberation Sans" font-size="17" fill="#8a8a8a">#</text><path d="M89.7 11.2 V25.2 M87.4 13.6 L89.7 11.2 L92 13.6 M87.4 22.8 L89.7 25.2 L92 22.8" fill="none" stroke="#8d8d8d" stroke-width="1.2"/><path d="M116.2 16.4 L119.1 23 L122 16.4" fill="none" stroke="#111" stroke-width="1.5"/></svg></div>
<div class="fin" style="left:462px"><div class="ph">Gene Terms</div><div class="sb"><svg class="abs" style="left:12px;top:12px" width="11" height="11" viewBox="0 0 11 11"><circle cx="4.5" cy="4.5" r="3.4" fill="none" stroke="#8a9096" stroke-width="1.4"/><path d="M7 7 L10 10" stroke="#8a9096" stroke-width="1.6"/></svg></div></div>
<div class="fgrp" style="left:658px;overflow:hidden"><svg class="abs" style="left:-1px;top:-1px" width="137" height="35" viewBox="0 0 137 35"><rect x="0" y="0" width="137" height="35" fill="#fafafa"/><rect x="102.5" y="0" width="34.5" height="35" fill="#f6f7f9"/><path d="M34.5 0 V35 M68.5 0 V35 M102.5 0 V35" stroke="#d3d7dc" stroke-width="1"/><path d="M13.9 15.1 L21.3 22.5 M21.3 15.1 L13.9 22.5" stroke="#6b6b6b" stroke-width="1.4"/><text x="40.6" y="21.8" font-family="Liberation Sans" font-size="16.3" fill="#8a8a8a">A</text><text x="48.6" y="21.8" font-family="Liberation Sans" font-size="11.3" fill="#8a8a8a">A</text><path d="M59.9 11.2 V24.6 M57.6 13.6 L59.9 11.2 L62.2 13.6 M57.6 22.2 L59.9 24.6 L62.2 22.2" fill="none" stroke="#8d8d8d" stroke-width="1.2"/><text x="76" y="22.5" font-family="Liberation Sans" font-size="17" fill="#8a8a8a">#</text><path d="M89.7 11.2 V25.2 M87.4 13.6 L89.7 11.2 L92 13.6 M87.4 22.8 L89.7 25.2 L92 22.8" fill="none" stroke="#8d8d8d" stroke-width="1.2"/><path d="M116.2 16.4 L119.1 23 L122 16.4" fill="none" stroke="#111" stroke-width="1.5"/></svg></div>
<div class="fin" style="left:817px"><div class="ph">Journal Name</div><div class="sb"><svg class="abs" style="left:12px;top:12px" width="11" height="11" viewBox="0 0 11 11"><circle cx="4.5" cy="4.5" r="3.4" fill="none" stroke="#8a9096" stroke-width="1.4"/><path d="M7 7 L10 10" stroke="#8a9096" stroke-width="1.6"/></svg></div></div>
<div class="fgrp" style="left:1013px;overflow:hidden"><svg class="abs" style="left:-1px;top:-1px" width="137" height="35" viewBox="0 0 137 35"><rect x="0" y="0" width="137" height="35" fill="#fafafa"/><rect x="102.5" y="0" width="34.5" height="35" fill="#f6f7f9"/><path d="M34.5 0 V35 M68.5 0 V35 M102.5 0 V35" stroke="#d3d7dc" stroke-width="1"/><path d="M13.9 15.1 L21.3 22.5 M21.3 15.1 L13.9 22.5" stroke="#6b6b6b" stroke-width="1.4"/><text x="40.6" y="21.8" font-family="Liberation Sans" font-size="16.3" fill="#8a8a8a">A</text><text x="48.6" y="21.8" font-family="Liberation Sans" font-size="11.3" fill="#8a8a8a">A</text><path d="M59.9 11.2 V24.6 M57.6 13.6 L59.9 11.2 L62.2 13.6 M57.6 22.2 L59.9 24.6 L62.2 22.2" fill="none" stroke="#8d8d8d" stroke-width="1.2"/><text x="76" y="22.5" font-family="Liberation Sans" font-size="17" fill="#8a8a8a">#</text><path d="M89.7 11.2 V25.2 M87.4 13.6 L89.7 11.2 L92 13.6 M87.4 22.8 L89.7 25.2 L92 22.8" fill="none" stroke="#8d8d8d" stroke-width="1.2"/><path d="M116.2 16.4 L119.1 23 L122 16.4" fill="none" stroke="#111" stroke-width="1.5"/></svg></div>
<div class="fin" style="left:1173px"><div class="ph">Publication Date</div><div class="sb"><svg class="abs" style="left:12px;top:12px" width="11" height="11" viewBox="0 0 11 11"><circle cx="4.5" cy="4.5" r="3.4" fill="none" stroke="#8a9096" stroke-width="1.4"/><path d="M7 7 L10 10" stroke="#8a9096" stroke-width="1.6"/></svg></div></div>
<div class="fgrp" style="left:1369px;overflow:hidden"><svg class="abs" style="left:-1px;top:-1px" width="137" height="35" viewBox="0 0 137 35"><rect x="0" y="0" width="137" height="35" fill="#fafafa"/><rect x="102.5" y="0" width="34.5" height="35" fill="#f6f7f9"/><path d="M34.5 0 V35 M68.5 0 V35 M102.5 0 V35" stroke="#d3d7dc" stroke-width="1"/><path d="M13.9 15.1 L21.3 22.5 M21.3 15.1 L13.9 22.5" stroke="#6b6b6b" stroke-width="1.4"/><text x="40.6" y="21.8" font-family="Liberation Sans" font-size="16.3" fill="#8a8a8a">A</text><text x="48.6" y="21.8" font-family="Liberation Sans" font-size="11.3" fill="#8a8a8a">A</text><path d="M59.9 11.2 V24.6 M57.6 13.6 L59.9 11.2 L62.2 13.6 M57.6 22.2 L59.9 24.6 L62.2 22.2" fill="none" stroke="#8d8d8d" stroke-width="1.2"/><text x="76" y="22.5" font-family="Liberation Sans" font-size="17" fill="#8a8a8a">#</text><path d="M89.7 11.2 V25.2 M87.4 13.6 L89.7 11.2 L92 13.6 M87.4 22.8 L89.7 25.2 L92 22.8" fill="none" stroke="#8d8d8d" stroke-width="1.2"/><path d="M116.2 16.4 L119.1 23 L122 16.4" fill="none" stroke="#111" stroke-width="1.5"/></svg></div>

<div class="abs nowrap" style="left:104px;top:1725px">
  <svg class="abs" style="left:0;top:0" width="17" height="16" viewBox="0 0 17 16"><circle cx="6.8" cy="6.6" r="5.6" fill="none" stroke="#1e7c82" stroke-width="1.9"/><path d="M10.8 10.6 L15.2 15" stroke="#1e7c82" stroke-width="2.1" stroke-linecap="round"/></svg>
  <span class="abs" style="left:21px;top:-1px;font-size:16px;line-height:20px;color:#1e7c82">Search Results:</span>
  <span class="abs" style="left:133px;top:0"><svg style="display:inline-block;vertical-align:-2px;margin-left:5px;vertical-align:0" width="16" height="16" viewBox="0 0 16 16"><circle cx="8" cy="8" r="7.1" fill="none" stroke="#733f78" stroke-width="1.6"/><path d="M5.6 6.1 Q5.9 3.8 8.2 3.8 Q10.6 3.9 10.5 5.8 Q10.4 7 9 7.7 Q8.1 8.2 8.1 9.4" fill="none" stroke="#733f78" stroke-width="1.5"/><rect x="7.3" y="10.6" width="1.6" height="1.6" fill="#733f78"/></svg></span>
</div>
<div class="abs" style="left:265px;top:1719px;width:174px;height:31px;border:1px solid #ced4da;border-radius:3px;background:#fff"></div>
<div class="abs nowrap" style="left:857px;top:1720px;width:157px;height:30px;background:#744177;border:1px solid #633166;border-radius:4px;color:#fff;font-size:16px;line-height:28px;padding-left:8px">Export Table Data<i class="caret" style="border-top-color:#fff;margin-left:5px;vertical-align:3px"></i></div>
<div class="abs" style="left:1431px;top:1719px;width:62px;height:31px;border:1px solid #ced4da;border-radius:4px;background:#fff;box-shadow:0 1px 3px rgba(0,0,0,0.06)"><span class="abs" style="left:9px;top:7px;font-size:14px;line-height:16px;color:#343a40">25</span><svg class="abs" style="left:40px;top:9px" width="9" height="12" viewBox="0 0 9 12"><path d="M4.5 0.5 L8.5 4.5 H0.5Z M4.5 11.5 L8.5 7.5 H0.5Z" fill="#343a40"/></svg></div>
<div class="abs nowrap" style="left:1500px;top:1724px;font-size:16px;line-height:20px;color:#343a40">entries per page</div>
<div id="tbl" class="abs">
  <div id="thead" class="abs">
    <div class="abs" style="left:5px;top:10px;width:13px;height:13px;border:1px solid #3a3a3a;border-radius:2.5px;background:#fff"></div>
    <div class="th" style="left:28px">Types<svg style="display:inline-block;vertical-align:-2px;margin-left:5px" width="16" height="16" viewBox="0 0 16 16"><circle cx="8" cy="8" r="7.1" fill="none" stroke="#733f78" stroke-width="1.6"/><path d="M5.6 6.1 Q5.9 3.8 8.2 3.8 Q10.6 3.9 10.5 5.8 Q10.4 7 9 7.7 Q8.1 8.2 8.1 9.4" fill="none" stroke="#733f78" stroke-width="1.5"/><rect x="7.3" y="10.6" width="1.6" height="1.6" fill="#733f78"/></svg></div>
    <svg class="abs" style="top:9px;left:164px" width="11" height="18" viewBox="0 0 11 18"><path d="M5.5 0.5 L10.5 8 H0.5 Z M5.5 17.5 L10.5 10 H0.5 Z" fill="#d3d8dd"/></svg>
    <div class="th" style="left:185.5px">Gene Terms<svg style="display:inline-block;vertical-align:-2px;margin-left:5px" width="16" height="16" viewBox="0 0 16 16"><circle cx="8" cy="8" r="7.1" fill="none" stroke="#733f78" stroke-width="1.6"/><path d="M5.6 6.1 Q5.9 3.8 8.2 3.8 Q10.6 3.9 10.5 5.8 Q10.4 7 9 7.7 Q8.1 8.2 8.1 9.4" fill="none" stroke="#733f78" stroke-width="1.5"/><rect x="7.3" y="10.6" width="1.6" height="1.6" fill="#733f78"/></svg></div>
    <svg class="abs" style="top:9px;left:349px" width="11" height="18" viewBox="0 0 11 18"><path d="M5.5 0.5 L10.5 8 H0.5 Z M5.5 17.5 L10.5 10 H0.5 Z" fill="#d3d8dd"/></svg>
    <div class="th" style="left:369.5px">Article Title &amp; Information<svg style="display:inline-block;vertical-align:-2px;margin-left:5px" width="16" height="16" viewBox="0 0 16 16"><circle cx="8" cy="8" r="7.1" fill="none" stroke="#733f78" stroke-width="1.6"/><path d="M5.6 6.1 Q5.9 3.8 8.2 3.8 Q10.6 3.9 10.5 5.8 Q10.4 7 9 7.7 Q8.1 8.2 8.1 9.4" fill="none" stroke="#733f78" stroke-width="1.5"/><rect x="7.3" y="10.6" width="1.6" height="1.6" fill="#733f78"/></svg></div>
    <svg class="abs" style="top:9px;left:1481px" width="11" height="18" viewBox="0 0 11 18"><path d="M5.5 0.5 L10.5 8 H0.5 Z M5.5 17.5 L10.5 10 H0.5 Z" fill="#d3d8dd"/></svg>
  </div>
  <div class="row" style="top:35px;height:107px"><div class="cb" style="top:47.5px"></div><div class="ty" style="top:43.5px">GENE SYMBOL</div><div class="gt" style="top:43.5px">SLC6A8</div><div class="ti">A mouse model of a patient derived P544L mutation in the Slc6a8 gene shows hyperactivity and cognitive deficits., A mouse model of a patient<br>derived P544L mutation in the Slc6a8 gene shows hypoactivity and cognitive deficits.</div><div class="jo" style="top:59px">Journal: Brain research (2026)</div><div class="jo" style="top:83px">PMID: 41500337</div></div>
<div class="row" style="top:142px;height:83px"><div class="cb" style="top:35.5px"></div><div class="ty" style="top:31.5px">GENE SYMBOL</div><div class="gt" style="top:31.5px">SLC6A8</div><div class="ti">CARD9 Conveys Pancreatic Islet Sympathetic Nervous β2 Signals to Reshape Macrophage Creatine Metabolism in Type 1 Diabetes.</div><div class="jo" style="top:35px">Journal: Advanced science (Weinheim, Baden-Wurttemberg, Germany) (2026)</div><div class="jo" style="top:59px">PMID: 41243316</div></div>
<div class="row" style="top:225px;height:82px"><div class="cb" style="top:35.0px"></div><div class="ty" style="top:31.0px">GENE SYMBOL</div><div class="gt" style="top:31.0px">SLC6A8</div><div class="ti">Connectomic and behavioural alterations in creatine transporter deficiency are partially normalized by gene therapy.</div><div class="jo" style="top:35px">Journal: Brain : a journal of neurology (2025)</div><div class="jo" style="top:59px">PMID: 40729420</div></div>
<div class="row" style="top:307px;height:83px"><div class="cb" style="top:35.5px"></div><div class="ty" style="top:31.5px">GENE SYMBOL</div><div class="gt" style="top:31.5px">SLC6A8</div><div class="ti">Targeting Creatine and Creatine Kinase in Cancer: Exploring Potential Therapeutic Strategies.</div><div class="jo" style="top:35px">Journal: Current drug targets (2025)</div><div class="jo" style="top:59px">PMID: 40600548</div></div>
<div class="row" style="top:390px;height:106px"><div class="cb" style="top:47.0px"></div><div class="ty" style="top:43.0px">GENE SYMBOL</div><div class="gt" style="top:43.0px">SLC6A8</div><div class="ti">Hypoxia-Induced Creatine Uptake Reprograms Metabolism to Antagonize PARP1-Mediated Cell Death and Facilitate Tumor Progression in<br>Hepatocellular Carcinoma.</div><div class="jo" style="top:59px">Journal: Cancer research (2025)</div><div class="jo" style="top:83px">PMID: 40742312</div></div>
<div class="row" style="top:496px;height:83px"><div class="cb" style="top:35.5px"></div><div class="ty" style="top:31.5px">GENE SYMBOL</div><div class="gt" style="top:31.5px">SLC6A8</div><div class="ti">Phenylbutyrate for monogenetic epilepsy: Literature review.</div><div class="jo" style="top:35px">Journal: Epilepsy research (2025)</div><div class="jo" style="top:59px">PMID: 40638122</div></div>
  <div class="abs" style="left:1497px;top:0;width:15px;height:535px;background:#fafafa;border-left:1px solid #e8e8e8"></div>
  <div class="abs" style="left:1502px;top:39px;width:7px;height:108px;border-radius:4px;background:#c2c2c2"></div>
</div>
<div class="abs nowrap" style="left:104px;top:2324px;font-size:16px;line-height:20px;color:#343a40">Showing 1 to 25 of 1,718 entries</div>
<div class="pg" style="left:1233px;width:34px;border-left:1px solid #dee2e6;border-radius:4px 0 0 4px;color:#6c757d;;font-size:13px">«</div>
<div class="pg" style="left:1267px;width:30px;color:#6c757d;;font-size:13px">‹</div>
<div class="pg" style="left:1297px;width:35px;background:#744177;border-color:#744177;color:#fff;">1</div>
<div class="pg" style="left:1332px;width:34px;">2</div>
<div class="pg" style="left:1366px;width:34px;">3</div>
<div class="pg" style="left:1400px;width:34px;">4</div>
<div class="pg" style="left:1434px;width:34px;">5</div>
<div class="pg" style="left:1468px;width:41px;">…</div>
<div class="pg" style="left:1509px;width:43px;">69</div>
<div class="pg" style="left:1552px;width:30px;;font-size:13px">›</div>
<div class="pg" style="left:1582px;width:34px;border-radius:0 4px 4px 0;;font-size:13px">»</div>
<!--FOOT-->
<div id="foot" class="abs">
<div class="ft" style="left:472px;top:25.3px">National Center for Advancing Translational Sciences</div><div class="fs" style="left:807px;top:26.3px"></div><div class="ft" style="left:818px;top:25.3px">Advanced Biomedical Computational Science</div><div class="fs" style="left:1106px;top:27.3px"></div><div class="abs nowrap" style="left:1116px;top:17px;font-size:13px;font-weight:bold;letter-spacing:-0.5px;line-height:15px;color:#f4eef5">Frederick National Laboratory</div><div class="abs nowrap" style="left:1193px;top:31px;font-size:10.5px;letter-spacing:-0.35px;line-height:12px;color:#f4eef5">for Cancer Research</div><div class="abs" style="left:1117px;top:45px;width:171px;height:1px;background:#c8b2cb"></div><div class="ft" style="left:377.7px;top:63.2px">Disclaimer Policy</div><div class="fs" style="left:493px;top:64.2px"></div><div class="ft" style="left:505px;top:63.2px">Accessibility</div><div class="fs" style="left:593px;top:64.2px"></div><div class="ft" style="left:604px;top:63.2px">FOIA</div><div class="fs" style="left:644px;top:64.2px"></div><div class="ft" style="left:655px;top:63.2px">U.S. Department of Health and Human Services</div><div class="fs" style="left:955px;top:64.2px"></div><div class="ft" style="left:967.5px;top:63.2px">National Institutes of Health</div><div class="fs" style="left:1146px;top:64.2px"></div><div class="ft" style="left:1157.5px;top:63.2px">National Cancer Institute</div><div class="fs" style="left:1318px;top:64.2px"></div><div class="ft" style="left:1329.5px;top:63.2px">USA.gov</div><div class="ft" style="left:621.3px;top:98.1px">HHS Vulnerability Disclosure</div><div class="fs" style="left:807px;top:99.1px"></div><div class="ft" style="left:818px;top:98.1px">NIH… Turning Discovery Into Health ®</div><div class="fs" style="left:1060px;top:99.1px"></div><div class="ft" style="left:1071.6px;top:98.1px">Contact Us</div>
</div>
<!--END-->
</body></html>
